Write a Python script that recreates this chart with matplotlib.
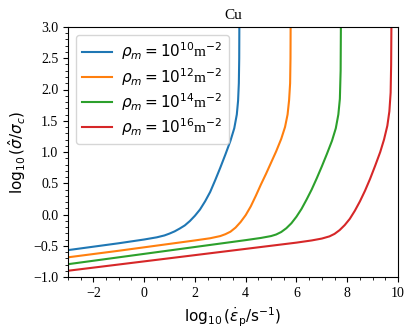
import matplotlib
matplotlib.use('Agg')
import matplotlib.pyplot as plt
from matplotlib.ticker import AutoMinorLocator

plt.rcParams['font.family'] = 'serif'
plt.rcParams['font.serif'] = ['Liberation Serif', 'DejaVu Serif']
plt.rcParams['mathtext.fontset'] = 'dejavusans'

# curves: log10(strain rate), log10(sigma_hat/sigma_c)
x_rho10 = [-3, -2, -1, 0, 0.5, 0.8, 1.0, 1.2, 1.4, 1.6, 1.8, 2.0, 2.2, 2.4, 2.6, 2.8,
           3.0, 3.2, 3.4, 3.55, 3.65, 3.70, 3.73, 3.745, 3.75]
y_rho10 = [-0.57, -0.515, -0.46, -0.40, -0.365, -0.335, -0.305, -0.27, -0.225, -0.175, -0.105,
           -0.02, 0.08, 0.21, 0.36, 0.55, 0.75, 0.96, 1.18, 1.38, 1.60, 1.82, 2.10, 2.5, 3.0]

x_rho12 = [-3, -1, 0, 1, 2, 2.6, 3.0, 3.2, 3.4, 3.6, 3.8, 4.0, 4.2, 4.4, 4.6, 4.8, 5.0,
           5.2, 5.4, 5.55, 5.65, 5.71, 5.75, 5.765, 5.77]
y_rho12 = [-0.685, -0.58, -0.525, -0.47, -0.415, -0.38, -0.345, -0.315, -0.275, -0.21, -0.12,
           -0.01, 0.13, 0.30, 0.48, 0.65, 0.83, 1.01, 1.21, 1.40, 1.60, 1.83, 2.1, 2.5, 3.0]

x_rho14 = [-3, -1, 0, 1, 2, 3, 4, 4.6, 5.0, 5.2, 5.4, 5.6, 5.8, 6.0, 6.2, 6.4, 6.6, 6.8,
           7.0, 7.2, 7.4, 7.55, 7.65, 7.71, 7.74, 7.75]
y_rho14 = [-0.795, -0.685, -0.63, -0.575, -0.52, -0.465, -0.41, -0.375, -0.345, -0.32, -0.28,
           -0.22, -0.14, -0.035, 0.09, 0.24, 0.40, 0.58, 0.77, 0.97, 1.18, 1.38, 1.6, 1.85, 2.3, 3.0]

x_rho16 = [-3, 0, 3, 5, 6, 6.6, 7.0, 7.3, 7.5, 7.7, 7.9, 8.1, 8.3, 8.5, 8.7, 8.9, 9.1,
           9.3, 9.45, 9.58, 9.66, 9.71, 9.73, 9.74]
y_rho16 = [-0.90, -0.75, -0.60, -0.50, -0.45, -0.415, -0.385, -0.35, -0.31, -0.25, -0.17,
           -0.07, 0.06, 0.21, 0.38, 0.57, 0.78, 1.0, 1.2, 1.42, 1.65, 1.95, 2.4, 3.0]

labels = [r'$\rho_m = 10^{10}$m$^{-2}$', r'$\rho_m = 10^{12}$m$^{-2}$',
          r'$\rho_m = 10^{14}$m$^{-2}$', r'$\rho_m = 10^{16}$m$^{-2}$']

fig = plt.figure(figsize=(4.15, 3.33), dpi=100)
ax = fig.add_axes([68/415, 1 - 277/333, 330/415, 250/333])

for xs, ys, lab in zip([x_rho10, x_rho12, x_rho14, x_rho16],
                       [y_rho10, y_rho12, y_rho14, y_rho16], labels):
    ax.plot(xs, ys, lw=1.5, label=lab)

ax.set_xlim(-3, 10)
ax.set_ylim(-1.0, 3.0)
ax.xaxis.set_minor_locator(AutoMinorLocator(4))
ax.yaxis.set_minor_locator(AutoMinorLocator(5))
ax.tick_params(labelsize=10)
ax.set_xlabel(r'$\log_{10}(\dot{\varepsilon}_{\rm p}/{\rm s}^{-1})$', fontsize=11)
ax.set_ylabel(r'$\log_{10}(\hat{\sigma}/\sigma_c)$', fontsize=11)
ax.set_title('Cu', fontsize=11)
ax.legend(loc='upper left', fontsize=11, labelspacing=0.22, handletextpad=0.6)

fig.savefig('out.png', dpi=100)
